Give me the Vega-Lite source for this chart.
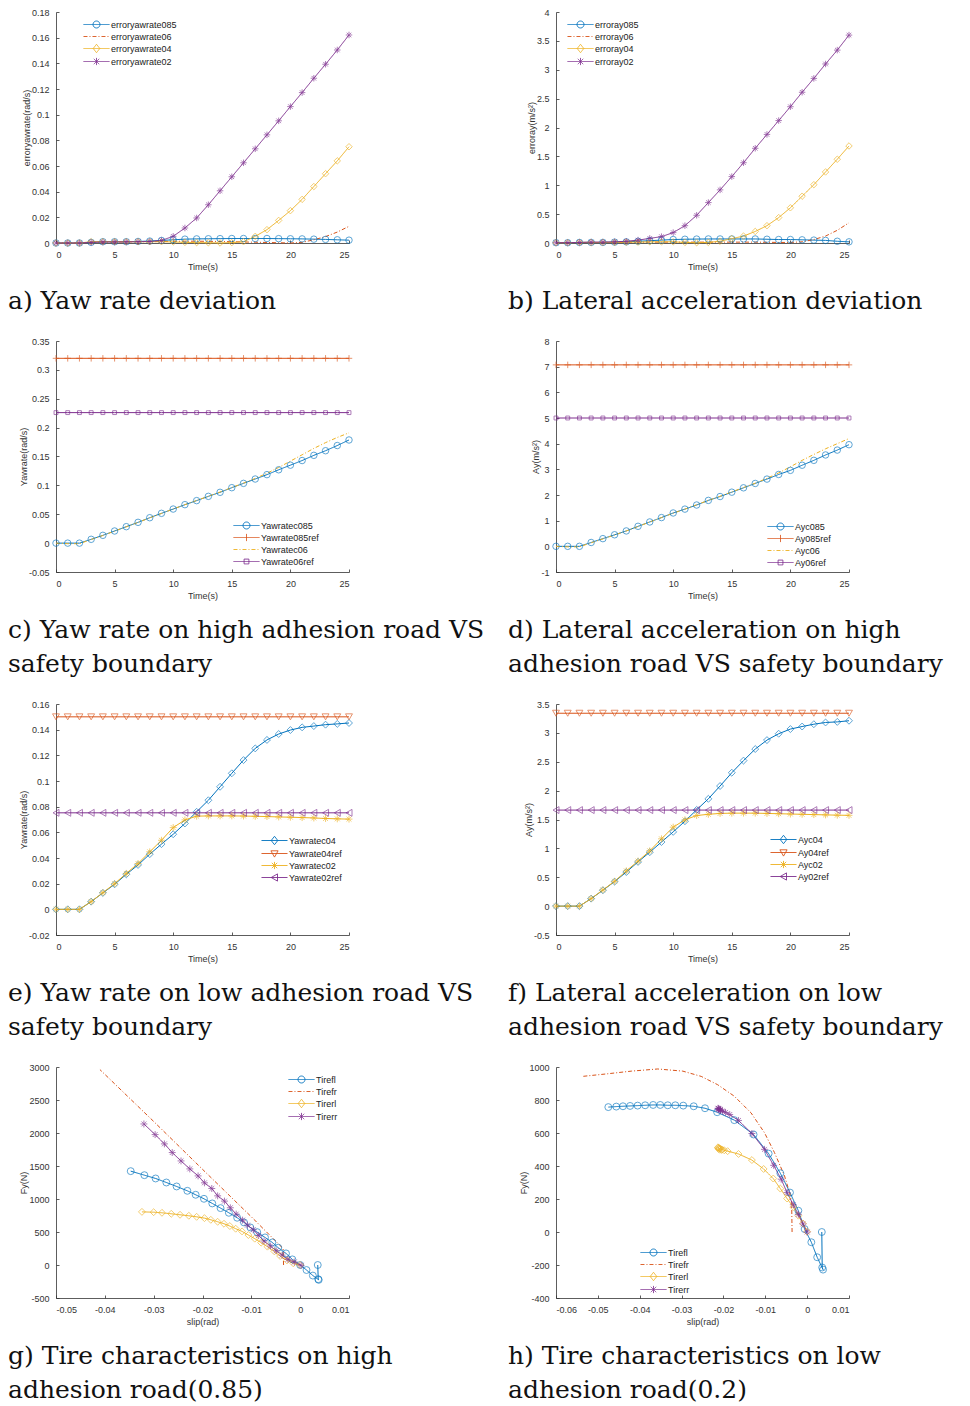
{
"$schema": "https://vega.github.io/schema/vega-lite/v6.json",
"padding": {"left": 8, "top": 8, "right": 10, "bottom": 10},
"background": "white",
"config": {
 "view": {"stroke": null},
 "font": "Liberation Sans",
 "axis": {"grid": false, "format": ".6~g", "domainColor": "#333333", "tickColor": "#333333", "labelColor": "#333333", "titleColor": "#333333", "labelFont": "Liberation Sans", "titleFont": "Liberation Sans", "labelFontSize": 9, "titleFontSize": 9, "titleFontWeight": "normal", "tickSize": -3, "labelPadding": 10, "domainWidth": 0.8, "tickWidth": 0.8},
 "axisX": {"titlePadding": 3},
 "axisY": {"titlePadding": 0},
 "legend": {"orient": "none", "padding": 0, "rowPadding": 0, "symbolSize": 144, "symbolStrokeWidth": 0.9, "symbolOpacity": 1, "labelFont": "Liberation Sans", "labelFontSize": 9, "labelColor": "#222222", "labelOffset": 8},
 "title": {"orient": "bottom", "anchor": "start", "frame": "group", "font": "DejaVu Serif", "fontSize": 25, "fontWeight": "normal", "color": "#111111", "offset": 18, "dx": -48, "lineHeight": 34, "baseline": "top"},
 "locale": {"number": {"decimal": ".", "thousands": ",", "grouping": [3], "currency": ["$", ""], "minus": "-"}},
 "line": {"strokeWidth": 1},
 "point": {"strokeWidth": 0.9}
},
"datasets": {
"a": [
{"t":0,"s":"erroryawrate085","v":0},{"t":1,"s":"erroryawrate085","v":0},{"t":2,"s":"erroryawrate085","v":0},{"t":3,"s":"erroryawrate085","v":0.0005},{"t":4,"s":"erroryawrate085","v":0.001},{"t":5,"s":"erroryawrate085","v":0.001},{"t":6,"s":"erroryawrate085","v":0.001},{"t":7,"s":"erroryawrate085","v":0.0012},{"t":8,"s":"erroryawrate085","v":0.0015},{"t":9,"s":"erroryawrate085","v":0.002},{"t":10,"s":"erroryawrate085","v":0.0025},{"t":11,"s":"erroryawrate085","v":0.003},{"t":12,"s":"erroryawrate085","v":0.0032},{"t":13,"s":"erroryawrate085","v":0.0033},{"t":14,"s":"erroryawrate085","v":0.0034},{"t":15,"s":"erroryawrate085","v":0.0035},{"t":16,"s":"erroryawrate085","v":0.0035},{"t":17,"s":"erroryawrate085","v":0.0035},{"t":18,"s":"erroryawrate085","v":0.0035},{"t":19,"s":"erroryawrate085","v":0.0034},{"t":20,"s":"erroryawrate085","v":0.0033},{"t":21,"s":"erroryawrate085","v":0.0032},{"t":22,"s":"erroryawrate085","v":0.003},{"t":23,"s":"erroryawrate085","v":0.0028},{"t":24,"s":"erroryawrate085","v":0.0025},{"t":25,"s":"erroryawrate085","v":0.0022},
{"t":0,"s":"erroryawrate06","v":0},{"t":1,"s":"erroryawrate06","v":0},{"t":2,"s":"erroryawrate06","v":0},{"t":3,"s":"erroryawrate06","v":0.0005},{"t":4,"s":"erroryawrate06","v":0.0007},{"t":5,"s":"erroryawrate06","v":0.0008},{"t":6,"s":"erroryawrate06","v":0.0009},{"t":7,"s":"erroryawrate06","v":0.001},{"t":8,"s":"erroryawrate06","v":0.001},{"t":9,"s":"erroryawrate06","v":0.0012},{"t":10,"s":"erroryawrate06","v":0.0013},{"t":11,"s":"erroryawrate06","v":0.0014},{"t":12,"s":"erroryawrate06","v":0.0014},{"t":13,"s":"erroryawrate06","v":0.0013},{"t":14,"s":"erroryawrate06","v":0.0012},{"t":15,"s":"erroryawrate06","v":0.001},{"t":16,"s":"erroryawrate06","v":0.0008},{"t":17,"s":"erroryawrate06","v":0.0006},{"t":18,"s":"erroryawrate06","v":0.0004},{"t":19,"s":"erroryawrate06","v":0.0002},{"t":20,"s":"erroryawrate06","v":0},{"t":21,"s":"erroryawrate06","v":0.0005},{"t":22,"s":"erroryawrate06","v":0.0025},{"t":23,"s":"erroryawrate06","v":0.005},{"t":24,"s":"erroryawrate06","v":0.0085},{"t":25,"s":"erroryawrate06","v":0.013},
{"t":0,"s":"erroryawrate04","v":0},{"t":1,"s":"erroryawrate04","v":0},{"t":2,"s":"erroryawrate04","v":0},{"t":3,"s":"erroryawrate04","v":0.001},{"t":4,"s":"erroryawrate04","v":0.001},{"t":5,"s":"erroryawrate04","v":0.001},{"t":6,"s":"erroryawrate04","v":0.001},{"t":7,"s":"erroryawrate04","v":0.001},{"t":8,"s":"erroryawrate04","v":0.001},{"t":9,"s":"erroryawrate04","v":0.001},{"t":10,"s":"erroryawrate04","v":0.0008},{"t":11,"s":"erroryawrate04","v":0.0005},{"t":12,"s":"erroryawrate04","v":0.0003},{"t":13,"s":"erroryawrate04","v":0.0002},{"t":14,"s":"erroryawrate04","v":0},{"t":15,"s":"erroryawrate04","v":0.0003},{"t":16,"s":"erroryawrate04","v":0.001},{"t":17,"s":"erroryawrate04","v":0.0052},{"t":18,"s":"erroryawrate04","v":0.0104},{"t":19,"s":"erroryawrate04","v":0.0176},{"t":20,"s":"erroryawrate04","v":0.0252},{"t":21,"s":"erroryawrate04","v":0.034},{"t":22,"s":"erroryawrate04","v":0.044},{"t":23,"s":"erroryawrate04","v":0.054},{"t":24,"s":"erroryawrate04","v":0.064},{"t":25,"s":"erroryawrate04","v":0.075},
{"t":0,"s":"erroryawrate02","v":0},{"t":1,"s":"erroryawrate02","v":0},{"t":2,"s":"erroryawrate02","v":0},{"t":3,"s":"erroryawrate02","v":0.0005},{"t":4,"s":"erroryawrate02","v":0.0008},{"t":5,"s":"erroryawrate02","v":0.0008},{"t":6,"s":"erroryawrate02","v":0.0009},{"t":7,"s":"erroryawrate02","v":0.001},{"t":8,"s":"erroryawrate02","v":0.0012},{"t":9,"s":"erroryawrate02","v":0.002},{"t":10,"s":"erroryawrate02","v":0.0052},{"t":11,"s":"erroryawrate02","v":0.0117},{"t":12,"s":"erroryawrate02","v":0.0195},{"t":13,"s":"erroryawrate02","v":0.0298},{"t":14,"s":"erroryawrate02","v":0.0407},{"t":15,"s":"erroryawrate02","v":0.0516},{"t":16,"s":"erroryawrate02","v":0.0625},{"t":17,"s":"erroryawrate02","v":0.0734},{"t":18,"s":"erroryawrate02","v":0.0843},{"t":19,"s":"erroryawrate02","v":0.0952},{"t":20,"s":"erroryawrate02","v":0.1063},{"t":21,"s":"erroryawrate02","v":0.1172},{"t":22,"s":"erroryawrate02","v":0.1284},{"t":23,"s":"erroryawrate02","v":0.1393},{"t":24,"s":"erroryawrate02","v":0.1504},{"t":25,"s":"erroryawrate02","v":0.1621}
],
"b": [
{"t":0,"s":"erroray085","v":0.005},{"t":1,"s":"erroray085","v":0.005},{"t":2,"s":"erroray085","v":0.01},{"t":3,"s":"erroray085","v":0.01},{"t":4,"s":"erroray085","v":0.01},{"t":5,"s":"erroray085","v":0.015},{"t":6,"s":"erroray085","v":0.02},{"t":7,"s":"erroray085","v":0.03},{"t":8,"s":"erroray085","v":0.04},{"t":9,"s":"erroray085","v":0.05},{"t":10,"s":"erroray085","v":0.06},{"t":11,"s":"erroray085","v":0.065},{"t":12,"s":"erroray085","v":0.068},{"t":13,"s":"erroray085","v":0.07},{"t":14,"s":"erroray085","v":0.07},{"t":15,"s":"erroray085","v":0.07},{"t":16,"s":"erroray085","v":0.07},{"t":17,"s":"erroray085","v":0.07},{"t":18,"s":"erroray085","v":0.065},{"t":19,"s":"erroray085","v":0.06},{"t":20,"s":"erroray085","v":0.06},{"t":21,"s":"erroray085","v":0.055},{"t":22,"s":"erroray085","v":0.05},{"t":23,"s":"erroray085","v":0.045},{"t":24,"s":"erroray085","v":0.03},{"t":25,"s":"erroray085","v":0.02},
{"t":0,"s":"erroray06","v":0.005},{"t":1,"s":"erroray06","v":0.005},{"t":2,"s":"erroray06","v":0.01},{"t":3,"s":"erroray06","v":0.01},{"t":4,"s":"erroray06","v":0.01},{"t":5,"s":"erroray06","v":0.012},{"t":6,"s":"erroray06","v":0.015},{"t":7,"s":"erroray06","v":0.015},{"t":8,"s":"erroray06","v":0.015},{"t":9,"s":"erroray06","v":0.015},{"t":10,"s":"erroray06","v":0.015},{"t":11,"s":"erroray06","v":0.015},{"t":12,"s":"erroray06","v":0.015},{"t":13,"s":"erroray06","v":0.015},{"t":14,"s":"erroray06","v":0.015},{"t":15,"s":"erroray06","v":0.015},{"t":16,"s":"erroray06","v":0.015},{"t":17,"s":"erroray06","v":0.015},{"t":18,"s":"erroray06","v":0.012},{"t":19,"s":"erroray06","v":0.01},{"t":20,"s":"erroray06","v":0.01},{"t":21,"s":"erroray06","v":0.02},{"t":22,"s":"erroray06","v":0.06},{"t":23,"s":"erroray06","v":0.12},{"t":24,"s":"erroray06","v":0.22},{"t":25,"s":"erroray06","v":0.35},
{"t":0,"s":"erroray04","v":0.005},{"t":1,"s":"erroray04","v":0.005},{"t":2,"s":"erroray04","v":0.01},{"t":3,"s":"erroray04","v":0.01},{"t":4,"s":"erroray04","v":0.01},{"t":5,"s":"erroray04","v":0.012},{"t":6,"s":"erroray04","v":0.015},{"t":7,"s":"erroray04","v":0.015},{"t":8,"s":"erroray04","v":0.02},{"t":9,"s":"erroray04","v":0.02},{"t":10,"s":"erroray04","v":0.02},{"t":11,"s":"erroray04","v":0.01},{"t":12,"s":"erroray04","v":0.005},{"t":13,"s":"erroray04","v":0.01},{"t":14,"s":"erroray04","v":0.03},{"t":15,"s":"erroray04","v":0.075},{"t":16,"s":"erroray04","v":0.12},{"t":17,"s":"erroray04","v":0.2},{"t":18,"s":"erroray04","v":0.3},{"t":19,"s":"erroray04","v":0.44},{"t":20,"s":"erroray04","v":0.61},{"t":21,"s":"erroray04","v":0.81},{"t":22,"s":"erroray04","v":1.01},{"t":23,"s":"erroray04","v":1.23},{"t":24,"s":"erroray04","v":1.45},{"t":25,"s":"erroray04","v":1.68},
{"t":0,"s":"erroray02","v":0.005},{"t":1,"s":"erroray02","v":0.005},{"t":2,"s":"erroray02","v":0.01},{"t":3,"s":"erroray02","v":0.015},{"t":4,"s":"erroray02","v":0.015},{"t":5,"s":"erroray02","v":0.02},{"t":6,"s":"erroray02","v":0.03},{"t":7,"s":"erroray02","v":0.05},{"t":8,"s":"erroray02","v":0.08},{"t":9,"s":"erroray02","v":0.11},{"t":10,"s":"erroray02","v":0.18},{"t":11,"s":"erroray02","v":0.3},{"t":12,"s":"erroray02","v":0.48},{"t":13,"s":"erroray02","v":0.7},{"t":14,"s":"erroray02","v":0.92},{"t":15,"s":"erroray02","v":1.15},{"t":16,"s":"erroray02","v":1.39},{"t":17,"s":"erroray02","v":1.64},{"t":18,"s":"erroray02","v":1.88},{"t":19,"s":"erroray02","v":2.12},{"t":20,"s":"erroray02","v":2.36},{"t":21,"s":"erroray02","v":2.61},{"t":22,"s":"erroray02","v":2.85},{"t":23,"s":"erroray02","v":3.1},{"t":24,"s":"erroray02","v":3.34},{"t":25,"s":"erroray02","v":3.6}
],
"c": [
{"t":0,"s":"Yawratec085","v":0},{"t":1,"s":"Yawratec085","v":0},{"t":2,"s":"Yawratec085","v":0},{"t":3,"s":"Yawratec085","v":0.0066},{"t":4,"s":"Yawratec085","v":0.0135},{"t":5,"s":"Yawratec085","v":0.021},{"t":6,"s":"Yawratec085","v":0.0285},{"t":7,"s":"Yawratec085","v":0.036},{"t":8,"s":"Yawratec085","v":0.044},{"t":9,"s":"Yawratec085","v":0.0516},{"t":10,"s":"Yawratec085","v":0.059},{"t":11,"s":"Yawratec085","v":0.0666},{"t":12,"s":"Yawratec085","v":0.0736},{"t":13,"s":"Yawratec085","v":0.081},{"t":14,"s":"Yawratec085","v":0.088},{"t":15,"s":"Yawratec085","v":0.096},{"t":16,"s":"Yawratec085","v":0.1035},{"t":17,"s":"Yawratec085","v":0.111},{"t":18,"s":"Yawratec085","v":0.1186},{"t":19,"s":"Yawratec085","v":0.127},{"t":20,"s":"Yawratec085","v":0.135},{"t":21,"s":"Yawratec085","v":0.143},{"t":22,"s":"Yawratec085","v":0.152},{"t":23,"s":"Yawratec085","v":0.16},{"t":24,"s":"Yawratec085","v":0.169},{"t":25,"s":"Yawratec085","v":0.1786},
{"t":0,"s":"Yawrate085ref","v":0.32},{"t":1,"s":"Yawrate085ref","v":0.32},{"t":2,"s":"Yawrate085ref","v":0.32},{"t":3,"s":"Yawrate085ref","v":0.32},{"t":4,"s":"Yawrate085ref","v":0.32},{"t":5,"s":"Yawrate085ref","v":0.32},{"t":6,"s":"Yawrate085ref","v":0.32},{"t":7,"s":"Yawrate085ref","v":0.32},{"t":8,"s":"Yawrate085ref","v":0.32},{"t":9,"s":"Yawrate085ref","v":0.32},{"t":10,"s":"Yawrate085ref","v":0.32},{"t":11,"s":"Yawrate085ref","v":0.32},{"t":12,"s":"Yawrate085ref","v":0.32},{"t":13,"s":"Yawrate085ref","v":0.32},{"t":14,"s":"Yawrate085ref","v":0.32},{"t":15,"s":"Yawrate085ref","v":0.32},{"t":16,"s":"Yawrate085ref","v":0.32},{"t":17,"s":"Yawrate085ref","v":0.32},{"t":18,"s":"Yawrate085ref","v":0.32},{"t":19,"s":"Yawrate085ref","v":0.32},{"t":20,"s":"Yawrate085ref","v":0.32},{"t":21,"s":"Yawrate085ref","v":0.32},{"t":22,"s":"Yawrate085ref","v":0.32},{"t":23,"s":"Yawrate085ref","v":0.32},{"t":24,"s":"Yawrate085ref","v":0.32},{"t":25,"s":"Yawrate085ref","v":0.32},
{"t":0,"s":"Yawratec06","v":0},{"t":1,"s":"Yawratec06","v":-0.001},{"t":2,"s":"Yawratec06","v":-0.001},{"t":3,"s":"Yawratec06","v":0.0062},{"t":4,"s":"Yawratec06","v":0.0132},{"t":5,"s":"Yawratec06","v":0.0208},{"t":6,"s":"Yawratec06","v":0.0283},{"t":7,"s":"Yawratec06","v":0.0358},{"t":8,"s":"Yawratec06","v":0.0438},{"t":9,"s":"Yawratec06","v":0.0514},{"t":10,"s":"Yawratec06","v":0.059},{"t":11,"s":"Yawratec06","v":0.0666},{"t":12,"s":"Yawratec06","v":0.0738},{"t":13,"s":"Yawratec06","v":0.0812},{"t":14,"s":"Yawratec06","v":0.0885},{"t":15,"s":"Yawratec06","v":0.0962},{"t":16,"s":"Yawratec06","v":0.104},{"t":17,"s":"Yawratec06","v":0.112},{"t":18,"s":"Yawratec06","v":0.121},{"t":19,"s":"Yawratec06","v":0.131},{"t":20,"s":"Yawratec06","v":0.142},{"t":21,"s":"Yawratec06","v":0.153},{"t":22,"s":"Yawratec06","v":0.164},{"t":23,"s":"Yawratec06","v":0.174},{"t":24,"s":"Yawratec06","v":0.183},{"t":25,"s":"Yawratec06","v":0.191},
{"t":0,"s":"Yawrate06ref","v":0.226},{"t":1,"s":"Yawrate06ref","v":0.226},{"t":2,"s":"Yawrate06ref","v":0.226},{"t":3,"s":"Yawrate06ref","v":0.226},{"t":4,"s":"Yawrate06ref","v":0.226},{"t":5,"s":"Yawrate06ref","v":0.226},{"t":6,"s":"Yawrate06ref","v":0.226},{"t":7,"s":"Yawrate06ref","v":0.226},{"t":8,"s":"Yawrate06ref","v":0.226},{"t":9,"s":"Yawrate06ref","v":0.226},{"t":10,"s":"Yawrate06ref","v":0.226},{"t":11,"s":"Yawrate06ref","v":0.226},{"t":12,"s":"Yawrate06ref","v":0.226},{"t":13,"s":"Yawrate06ref","v":0.226},{"t":14,"s":"Yawrate06ref","v":0.226},{"t":15,"s":"Yawrate06ref","v":0.226},{"t":16,"s":"Yawrate06ref","v":0.226},{"t":17,"s":"Yawrate06ref","v":0.226},{"t":18,"s":"Yawrate06ref","v":0.226},{"t":19,"s":"Yawrate06ref","v":0.226},{"t":20,"s":"Yawrate06ref","v":0.226},{"t":21,"s":"Yawrate06ref","v":0.226},{"t":22,"s":"Yawrate06ref","v":0.226},{"t":23,"s":"Yawrate06ref","v":0.226},{"t":24,"s":"Yawrate06ref","v":0.226},{"t":25,"s":"Yawrate06ref","v":0.226}
],
"d": [
{"t":0,"s":"Ayc085","v":0},{"t":1,"s":"Ayc085","v":0},{"t":2,"s":"Ayc085","v":0},{"t":3,"s":"Ayc085","v":0.15},{"t":4,"s":"Ayc085","v":0.3},{"t":5,"s":"Ayc085","v":0.45},{"t":6,"s":"Ayc085","v":0.6},{"t":7,"s":"Ayc085","v":0.78},{"t":8,"s":"Ayc085","v":0.95},{"t":9,"s":"Ayc085","v":1.12},{"t":10,"s":"Ayc085","v":1.3},{"t":11,"s":"Ayc085","v":1.45},{"t":12,"s":"Ayc085","v":1.61},{"t":13,"s":"Ayc085","v":1.79},{"t":14,"s":"Ayc085","v":1.94},{"t":15,"s":"Ayc085","v":2.11},{"t":16,"s":"Ayc085","v":2.28},{"t":17,"s":"Ayc085","v":2.45},{"t":18,"s":"Ayc085","v":2.62},{"t":19,"s":"Ayc085","v":2.8},{"t":20,"s":"Ayc085","v":2.96},{"t":21,"s":"Ayc085","v":3.16},{"t":22,"s":"Ayc085","v":3.35},{"t":23,"s":"Ayc085","v":3.56},{"t":24,"s":"Ayc085","v":3.75},{"t":25,"s":"Ayc085","v":3.96},
{"t":0,"s":"Ay085ref","v":7.07},{"t":1,"s":"Ay085ref","v":7.07},{"t":2,"s":"Ay085ref","v":7.07},{"t":3,"s":"Ay085ref","v":7.07},{"t":4,"s":"Ay085ref","v":7.07},{"t":5,"s":"Ay085ref","v":7.07},{"t":6,"s":"Ay085ref","v":7.07},{"t":7,"s":"Ay085ref","v":7.07},{"t":8,"s":"Ay085ref","v":7.07},{"t":9,"s":"Ay085ref","v":7.07},{"t":10,"s":"Ay085ref","v":7.07},{"t":11,"s":"Ay085ref","v":7.07},{"t":12,"s":"Ay085ref","v":7.07},{"t":13,"s":"Ay085ref","v":7.07},{"t":14,"s":"Ay085ref","v":7.07},{"t":15,"s":"Ay085ref","v":7.07},{"t":16,"s":"Ay085ref","v":7.07},{"t":17,"s":"Ay085ref","v":7.07},{"t":18,"s":"Ay085ref","v":7.07},{"t":19,"s":"Ay085ref","v":7.07},{"t":20,"s":"Ay085ref","v":7.07},{"t":21,"s":"Ay085ref","v":7.07},{"t":22,"s":"Ay085ref","v":7.07},{"t":23,"s":"Ay085ref","v":7.07},{"t":24,"s":"Ay085ref","v":7.07},{"t":25,"s":"Ay085ref","v":7.07},
{"t":0,"s":"Ayc06","v":0},{"t":1,"s":"Ayc06","v":-0.02},{"t":2,"s":"Ayc06","v":-0.02},{"t":3,"s":"Ayc06","v":0.14},{"t":4,"s":"Ayc06","v":0.29},{"t":5,"s":"Ayc06","v":0.44},{"t":6,"s":"Ayc06","v":0.6},{"t":7,"s":"Ayc06","v":0.77},{"t":8,"s":"Ayc06","v":0.95},{"t":9,"s":"Ayc06","v":1.12},{"t":10,"s":"Ayc06","v":1.29},{"t":11,"s":"Ayc06","v":1.45},{"t":12,"s":"Ayc06","v":1.62},{"t":13,"s":"Ayc06","v":1.79},{"t":14,"s":"Ayc06","v":1.95},{"t":15,"s":"Ayc06","v":2.12},{"t":16,"s":"Ayc06","v":2.29},{"t":17,"s":"Ayc06","v":2.46},{"t":18,"s":"Ayc06","v":2.65},{"t":19,"s":"Ayc06","v":2.86},{"t":20,"s":"Ayc06","v":3.1},{"t":21,"s":"Ayc06","v":3.35},{"t":22,"s":"Ayc06","v":3.58},{"t":23,"s":"Ayc06","v":3.8},{"t":24,"s":"Ayc06","v":4.0},{"t":25,"s":"Ayc06","v":4.2},
{"t":0,"s":"Ay06ref","v":5},{"t":1,"s":"Ay06ref","v":5},{"t":2,"s":"Ay06ref","v":5},{"t":3,"s":"Ay06ref","v":5},{"t":4,"s":"Ay06ref","v":5},{"t":5,"s":"Ay06ref","v":5},{"t":6,"s":"Ay06ref","v":5},{"t":7,"s":"Ay06ref","v":5},{"t":8,"s":"Ay06ref","v":5},{"t":9,"s":"Ay06ref","v":5},{"t":10,"s":"Ay06ref","v":5},{"t":11,"s":"Ay06ref","v":5},{"t":12,"s":"Ay06ref","v":5},{"t":13,"s":"Ay06ref","v":5},{"t":14,"s":"Ay06ref","v":5},{"t":15,"s":"Ay06ref","v":5},{"t":16,"s":"Ay06ref","v":5},{"t":17,"s":"Ay06ref","v":5},{"t":18,"s":"Ay06ref","v":5},{"t":19,"s":"Ay06ref","v":5},{"t":20,"s":"Ay06ref","v":5},{"t":21,"s":"Ay06ref","v":5},{"t":22,"s":"Ay06ref","v":5},{"t":23,"s":"Ay06ref","v":5},{"t":24,"s":"Ay06ref","v":5},{"t":25,"s":"Ay06ref","v":5}
],
"e": [
{"t":0,"s":"Yawratec04","v":0},{"t":1,"s":"Yawratec04","v":0},{"t":2,"s":"Yawratec04","v":0},{"t":3,"s":"Yawratec04","v":0.006},{"t":4,"s":"Yawratec04","v":0.0128},{"t":5,"s":"Yawratec04","v":0.0195},{"t":6,"s":"Yawratec04","v":0.0273},{"t":7,"s":"Yawratec04","v":0.0346},{"t":8,"s":"Yawratec04","v":0.043},{"t":9,"s":"Yawratec04","v":0.0508},{"t":10,"s":"Yawratec04","v":0.0585},{"t":11,"s":"Yawratec04","v":0.0669},{"t":12,"s":"Yawratec04","v":0.076},{"t":13,"s":"Yawratec04","v":0.085},{"t":14,"s":"Yawratec04","v":0.0955},{"t":15,"s":"Yawratec04","v":0.106},{"t":16,"s":"Yawratec04","v":0.1163},{"t":17,"s":"Yawratec04","v":0.1254},{"t":18,"s":"Yawratec04","v":0.132},{"t":19,"s":"Yawratec04","v":0.1366},{"t":20,"s":"Yawratec04","v":0.1397},{"t":21,"s":"Yawratec04","v":0.1418},{"t":22,"s":"Yawratec04","v":0.1428},{"t":23,"s":"Yawratec04","v":0.1439},{"t":24,"s":"Yawratec04","v":0.1445},{"t":25,"s":"Yawratec04","v":0.1452},
{"t":0,"s":"Yawrate04ref","v":0.15},{"t":1,"s":"Yawrate04ref","v":0.15},{"t":2,"s":"Yawrate04ref","v":0.15},{"t":3,"s":"Yawrate04ref","v":0.15},{"t":4,"s":"Yawrate04ref","v":0.15},{"t":5,"s":"Yawrate04ref","v":0.15},{"t":6,"s":"Yawrate04ref","v":0.15},{"t":7,"s":"Yawrate04ref","v":0.15},{"t":8,"s":"Yawrate04ref","v":0.15},{"t":9,"s":"Yawrate04ref","v":0.15},{"t":10,"s":"Yawrate04ref","v":0.15},{"t":11,"s":"Yawrate04ref","v":0.15},{"t":12,"s":"Yawrate04ref","v":0.15},{"t":13,"s":"Yawrate04ref","v":0.15},{"t":14,"s":"Yawrate04ref","v":0.15},{"t":15,"s":"Yawrate04ref","v":0.15},{"t":16,"s":"Yawrate04ref","v":0.15},{"t":17,"s":"Yawrate04ref","v":0.15},{"t":18,"s":"Yawrate04ref","v":0.15},{"t":19,"s":"Yawrate04ref","v":0.15},{"t":20,"s":"Yawrate04ref","v":0.15},{"t":21,"s":"Yawrate04ref","v":0.15},{"t":22,"s":"Yawrate04ref","v":0.15},{"t":23,"s":"Yawrate04ref","v":0.15},{"t":24,"s":"Yawrate04ref","v":0.15},{"t":25,"s":"Yawrate04ref","v":0.15},
{"t":0,"s":"Yawratec02","v":0},{"t":1,"s":"Yawratec02","v":0},{"t":2,"s":"Yawratec02","v":0},{"t":3,"s":"Yawratec02","v":0.006},{"t":4,"s":"Yawratec02","v":0.013},{"t":5,"s":"Yawratec02","v":0.02},{"t":6,"s":"Yawratec02","v":0.028},{"t":7,"s":"Yawratec02","v":0.0357},{"t":8,"s":"Yawratec02","v":0.0448},{"t":9,"s":"Yawratec02","v":0.0538},{"t":10,"s":"Yawratec02","v":0.0637},{"t":11,"s":"Yawratec02","v":0.0697},{"t":12,"s":"Yawratec02","v":0.0726},{"t":13,"s":"Yawratec02","v":0.0728},{"t":14,"s":"Yawratec02","v":0.0728},{"t":15,"s":"Yawratec02","v":0.0728},{"t":16,"s":"Yawratec02","v":0.0727},{"t":17,"s":"Yawratec02","v":0.0725},{"t":18,"s":"Yawratec02","v":0.0723},{"t":19,"s":"Yawratec02","v":0.072},{"t":20,"s":"Yawratec02","v":0.0718},{"t":21,"s":"Yawratec02","v":0.0715},{"t":22,"s":"Yawratec02","v":0.0712},{"t":23,"s":"Yawratec02","v":0.0708},{"t":24,"s":"Yawratec02","v":0.0705},{"t":25,"s":"Yawratec02","v":0.0703},
{"t":0,"s":"Yawrate02ref","v":0.0752},{"t":1,"s":"Yawrate02ref","v":0.0752},{"t":2,"s":"Yawrate02ref","v":0.0752},{"t":3,"s":"Yawrate02ref","v":0.0752},{"t":4,"s":"Yawrate02ref","v":0.0752},{"t":5,"s":"Yawrate02ref","v":0.0752},{"t":6,"s":"Yawrate02ref","v":0.0752},{"t":7,"s":"Yawrate02ref","v":0.0752},{"t":8,"s":"Yawrate02ref","v":0.0752},{"t":9,"s":"Yawrate02ref","v":0.0752},{"t":10,"s":"Yawrate02ref","v":0.0752},{"t":11,"s":"Yawrate02ref","v":0.0752},{"t":12,"s":"Yawrate02ref","v":0.0752},{"t":13,"s":"Yawrate02ref","v":0.0752},{"t":14,"s":"Yawrate02ref","v":0.0752},{"t":15,"s":"Yawrate02ref","v":0.0752},{"t":16,"s":"Yawrate02ref","v":0.0752},{"t":17,"s":"Yawrate02ref","v":0.0752},{"t":18,"s":"Yawrate02ref","v":0.0752},{"t":19,"s":"Yawrate02ref","v":0.0752},{"t":20,"s":"Yawrate02ref","v":0.0752},{"t":21,"s":"Yawrate02ref","v":0.0752},{"t":22,"s":"Yawrate02ref","v":0.0752},{"t":23,"s":"Yawrate02ref","v":0.0752},{"t":24,"s":"Yawrate02ref","v":0.0752},{"t":25,"s":"Yawrate02ref","v":0.0752}
],
"f": [
{"t":0,"s":"Ayc04","v":0},{"t":1,"s":"Ayc04","v":0},{"t":2,"s":"Ayc04","v":0},{"t":3,"s":"Ayc04","v":0.13},{"t":4,"s":"Ayc04","v":0.275},{"t":5,"s":"Ayc04","v":0.425},{"t":6,"s":"Ayc04","v":0.59},{"t":7,"s":"Ayc04","v":0.766},{"t":8,"s":"Ayc04","v":0.934},{"t":9,"s":"Ayc04","v":1.11},{"t":10,"s":"Ayc04","v":1.286},{"t":11,"s":"Ayc04","v":1.47},{"t":12,"s":"Ayc04","v":1.667},{"t":13,"s":"Ayc04","v":1.858},{"t":14,"s":"Ayc04","v":2.08},{"t":15,"s":"Ayc04","v":2.31},{"t":16,"s":"Ayc04","v":2.52},{"t":17,"s":"Ayc04","v":2.72},{"t":18,"s":"Ayc04","v":2.875},{"t":19,"s":"Ayc04","v":2.985},{"t":20,"s":"Ayc04","v":3.066},{"t":21,"s":"Ayc04","v":3.11},{"t":22,"s":"Ayc04","v":3.15},{"t":23,"s":"Ayc04","v":3.18},{"t":24,"s":"Ayc04","v":3.19},{"t":25,"s":"Ayc04","v":3.21},
{"t":0,"s":"Ay04ref","v":3.34},{"t":1,"s":"Ay04ref","v":3.34},{"t":2,"s":"Ay04ref","v":3.34},{"t":3,"s":"Ay04ref","v":3.34},{"t":4,"s":"Ay04ref","v":3.34},{"t":5,"s":"Ay04ref","v":3.34},{"t":6,"s":"Ay04ref","v":3.34},{"t":7,"s":"Ay04ref","v":3.34},{"t":8,"s":"Ay04ref","v":3.34},{"t":9,"s":"Ay04ref","v":3.34},{"t":10,"s":"Ay04ref","v":3.34},{"t":11,"s":"Ay04ref","v":3.34},{"t":12,"s":"Ay04ref","v":3.34},{"t":13,"s":"Ay04ref","v":3.34},{"t":14,"s":"Ay04ref","v":3.34},{"t":15,"s":"Ay04ref","v":3.34},{"t":16,"s":"Ay04ref","v":3.34},{"t":17,"s":"Ay04ref","v":3.34},{"t":18,"s":"Ay04ref","v":3.34},{"t":19,"s":"Ay04ref","v":3.34},{"t":20,"s":"Ay04ref","v":3.34},{"t":21,"s":"Ay04ref","v":3.34},{"t":22,"s":"Ay04ref","v":3.34},{"t":23,"s":"Ay04ref","v":3.34},{"t":24,"s":"Ay04ref","v":3.34},{"t":25,"s":"Ay04ref","v":3.34},
{"t":0,"s":"Ayc02","v":0},{"t":1,"s":"Ayc02","v":0},{"t":2,"s":"Ayc02","v":0},{"t":3,"s":"Ayc02","v":0.13},{"t":4,"s":"Ayc02","v":0.28},{"t":5,"s":"Ayc02","v":0.43},{"t":6,"s":"Ayc02","v":0.61},{"t":7,"s":"Ayc02","v":0.78},{"t":8,"s":"Ayc02","v":0.957},{"t":9,"s":"Ayc02","v":1.165},{"t":10,"s":"Ayc02","v":1.367},{"t":11,"s":"Ayc02","v":1.494},{"t":12,"s":"Ayc02","v":1.569},{"t":13,"s":"Ayc02","v":1.59},{"t":14,"s":"Ayc02","v":1.605},{"t":15,"s":"Ayc02","v":1.61},{"t":16,"s":"Ayc02","v":1.61},{"t":17,"s":"Ayc02","v":1.61},{"t":18,"s":"Ayc02","v":1.605},{"t":19,"s":"Ayc02","v":1.6},{"t":20,"s":"Ayc02","v":1.595},{"t":21,"s":"Ayc02","v":1.59},{"t":22,"s":"Ayc02","v":1.585},{"t":23,"s":"Ayc02","v":1.58},{"t":24,"s":"Ayc02","v":1.575},{"t":25,"s":"Ayc02","v":1.572},
{"t":0,"s":"Ay02ref","v":1.663},{"t":1,"s":"Ay02ref","v":1.663},{"t":2,"s":"Ay02ref","v":1.663},{"t":3,"s":"Ay02ref","v":1.663},{"t":4,"s":"Ay02ref","v":1.663},{"t":5,"s":"Ay02ref","v":1.663},{"t":6,"s":"Ay02ref","v":1.663},{"t":7,"s":"Ay02ref","v":1.663},{"t":8,"s":"Ay02ref","v":1.663},{"t":9,"s":"Ay02ref","v":1.663},{"t":10,"s":"Ay02ref","v":1.663},{"t":11,"s":"Ay02ref","v":1.663},{"t":12,"s":"Ay02ref","v":1.663},{"t":13,"s":"Ay02ref","v":1.663},{"t":14,"s":"Ay02ref","v":1.663},{"t":15,"s":"Ay02ref","v":1.663},{"t":16,"s":"Ay02ref","v":1.663},{"t":17,"s":"Ay02ref","v":1.663},{"t":18,"s":"Ay02ref","v":1.663},{"t":19,"s":"Ay02ref","v":1.663},{"t":20,"s":"Ay02ref","v":1.663},{"t":21,"s":"Ay02ref","v":1.663},{"t":22,"s":"Ay02ref","v":1.663},{"t":23,"s":"Ay02ref","v":1.663},{"t":24,"s":"Ay02ref","v":1.663},{"t":25,"s":"Ay02ref","v":1.663}
],
"g": [
{"i":0,"s":"Tirefl","slip":0.0036,"fy":0},{"i":1,"s":"Tirefl","slip":0.0037,"fy":-215},{"i":2,"s":"Tirefl","slip":0.0038,"fy":-225},{"i":3,"s":"Tirefl","slip":0.0026,"fy":-160},{"i":4,"s":"Tirefl","slip":0.0013,"fy":-76},{"i":5,"s":"Tirefl","slip":0,"fy":0},{"i":6,"s":"Tirefl","slip":-0.0016,"fy":85},{"i":7,"s":"Tirefl","slip":-0.0029,"fy":176},{"i":8,"s":"Tirefl","slip":-0.0045,"fy":262},{"i":9,"s":"Tirefl","slip":-0.0057,"fy":342},{"i":10,"s":"Tirefl","slip":-0.0072,"fy":418},{"i":11,"s":"Tirefl","slip":-0.0088,"fy":498},{"i":12,"s":"Tirefl","slip":-0.0102,"fy":569},{"i":13,"s":"Tirefl","slip":-0.0115,"fy":645},{"i":14,"s":"Tirefl","slip":-0.0129,"fy":716},{"i":15,"s":"Tirefl","slip":-0.0146,"fy":791},{"i":16,"s":"Tirefl","slip":-0.0163,"fy":862},{"i":17,"s":"Tirefl","slip":-0.018,"fy":933},{"i":18,"s":"Tirefl","slip":-0.0197,"fy":1003},{"i":19,"s":"Tirefl","slip":-0.0214,"fy":1064},{"i":20,"s":"Tirefl","slip":-0.0231,"fy":1124},{"i":21,"s":"Tirefl","slip":-0.0253,"fy":1190},{"i":22,"s":"Tirefl","slip":-0.0274,"fy":1250},{"i":23,"s":"Tirefl","slip":-0.0296,"fy":1311},{"i":24,"s":"Tirefl","slip":-0.0319,"fy":1361},{"i":25,"s":"Tirefl","slip":-0.0347,"fy":1422},
{"i":0,"s":"Tirefr","slip":-0.0034,"fy":0},{"i":1,"s":"Tirefr","slip":-0.0035,"fy":250},{"i":2,"s":"Tirefr","slip":-0.01,"fy":730},{"i":3,"s":"Tirefr","slip":-0.02,"fy":1450},{"i":4,"s":"Tirefr","slip":-0.03,"fy":2175},{"i":5,"s":"Tirefr","slip":-0.041,"fy":2960},
{"i":0,"s":"Tirerl","slip":0,"fy":0},{"i":1,"s":"Tirerl","slip":-0.0014,"fy":25},{"i":2,"s":"Tirerl","slip":-0.0027,"fy":70},{"i":3,"s":"Tirerl","slip":-0.0041,"fy":136},{"i":4,"s":"Tirerl","slip":-0.0053,"fy":207},{"i":5,"s":"Tirerl","slip":-0.0067,"fy":278},{"i":6,"s":"Tirerl","slip":-0.008,"fy":339},{"i":7,"s":"Tirerl","slip":-0.0093,"fy":399},{"i":8,"s":"Tirerl","slip":-0.0106,"fy":454},{"i":9,"s":"Tirerl","slip":-0.0119,"fy":509},{"i":10,"s":"Tirerl","slip":-0.0132,"fy":550},{"i":11,"s":"Tirerl","slip":-0.0144,"fy":590},{"i":12,"s":"Tirerl","slip":-0.0156,"fy":625},{"i":13,"s":"Tirerl","slip":-0.0169,"fy":655},{"i":14,"s":"Tirerl","slip":-0.0183,"fy":685},{"i":15,"s":"Tirerl","slip":-0.0196,"fy":710},{"i":16,"s":"Tirerl","slip":-0.0212,"fy":730},{"i":17,"s":"Tirerl","slip":-0.0228,"fy":746},{"i":18,"s":"Tirerl","slip":-0.0246,"fy":761},{"i":19,"s":"Tirerl","slip":-0.0264,"fy":776},{"i":20,"s":"Tirerl","slip":-0.0283,"fy":791},{"i":21,"s":"Tirerl","slip":-0.03,"fy":800},{"i":22,"s":"Tirerl","slip":-0.0324,"fy":805},
{"i":0,"s":"Tirerr","slip":0.0002,"fy":-5},{"i":1,"s":"Tirerr","slip":-0.0012,"fy":45},{"i":2,"s":"Tirerr","slip":-0.0025,"fy":85},{"i":3,"s":"Tirerr","slip":-0.0037,"fy":150},{"i":4,"s":"Tirerr","slip":-0.0049,"fy":216},{"i":5,"s":"Tirerr","slip":-0.0061,"fy":287},{"i":6,"s":"Tirerr","slip":-0.0074,"fy":363},{"i":7,"s":"Tirerr","slip":-0.0085,"fy":448},{"i":8,"s":"Tirerr","slip":-0.0096,"fy":534},{"i":9,"s":"Tirerr","slip":-0.0108,"fy":604},{"i":10,"s":"Tirerr","slip":-0.0118,"fy":680},{"i":11,"s":"Tirerr","slip":-0.0131,"fy":771},{"i":12,"s":"Tirerr","slip":-0.0143,"fy":867},{"i":13,"s":"Tirerr","slip":-0.0155,"fy":968},{"i":14,"s":"Tirerr","slip":-0.0169,"fy":1048},{"i":15,"s":"Tirerr","slip":-0.0181,"fy":1159},{"i":16,"s":"Tirerr","slip":-0.0196,"fy":1245},{"i":17,"s":"Tirerr","slip":-0.0209,"fy":1350},{"i":18,"s":"Tirerr","slip":-0.0226,"fy":1456},{"i":19,"s":"Tirerr","slip":-0.0244,"fy":1577},{"i":20,"s":"Tirerr","slip":-0.0262,"fy":1704},{"i":21,"s":"Tirerr","slip":-0.0278,"fy":1835},{"i":22,"s":"Tirerr","slip":-0.0297,"fy":1976},{"i":23,"s":"Tirerr","slip":-0.032,"fy":2137}
],
"h": [
{"i":0,"s":"Tirefl","slip":0.0035,"fy":0},{"i":1,"s":"Tirefl","slip":0.0036,"fy":-215},{"i":2,"s":"Tirefl","slip":0.0038,"fy":-228},{"i":3,"s":"Tirefl","slip":0.0024,"fy":-153},{"i":4,"s":"Tirefl","slip":0.001,"fy":-62},{"i":5,"s":"Tirefl","slip":-0.0006,"fy":18},{"i":6,"s":"Tirefl","slip":-0.0021,"fy":129},{"i":7,"s":"Tirefl","slip":-0.0041,"fy":239},{"i":8,"s":"Tirefl","slip":-0.0064,"fy":356},{"i":9,"s":"Tirefl","slip":-0.0092,"fy":475},{"i":10,"s":"Tirefl","slip":-0.0128,"fy":591},{"i":11,"s":"Tirefl","slip":-0.0174,"fy":678},{"i":12,"s":"Tirefl","slip":-0.0215,"fy":726},{"i":13,"s":"Tirefl","slip":-0.0244,"fy":750},{"i":14,"s":"Tirefl","slip":-0.0271,"fy":762},{"i":15,"s":"Tirefl","slip":-0.0296,"fy":766},{"i":16,"s":"Tirefl","slip":-0.0315,"fy":768},{"i":17,"s":"Tirefl","slip":-0.0333,"fy":768},{"i":18,"s":"Tirefl","slip":-0.0351,"fy":770},{"i":19,"s":"Tirefl","slip":-0.0368,"fy":770},{"i":20,"s":"Tirefl","slip":-0.0387,"fy":768},{"i":21,"s":"Tirefl","slip":-0.0405,"fy":766},{"i":22,"s":"Tirefl","slip":-0.0423,"fy":764},{"i":23,"s":"Tirefl","slip":-0.044,"fy":762},{"i":24,"s":"Tirefl","slip":-0.0456,"fy":760},{"i":25,"s":"Tirefl","slip":-0.0475,"fy":757},
{"i":0,"s":"Tirefr","slip":-0.0036,"fy":0},{"i":1,"s":"Tirefr","slip":-0.0037,"fy":179},{"i":2,"s":"Tirefr","slip":-0.0042,"fy":239},{"i":3,"s":"Tirefr","slip":-0.0054,"fy":340},{"i":4,"s":"Tirefr","slip":-0.0078,"fy":481},{"i":5,"s":"Tirefr","slip":-0.0102,"fy":602},{"i":6,"s":"Tirefr","slip":-0.0134,"fy":722},{"i":7,"s":"Tirefr","slip":-0.0174,"fy":823},{"i":8,"s":"Tirefr","slip":-0.0214,"fy":893},{"i":9,"s":"Tirefr","slip":-0.0253,"fy":943},{"i":10,"s":"Tirefr","slip":-0.0297,"fy":975},{"i":11,"s":"Tirefr","slip":-0.0357,"fy":988},{"i":12,"s":"Tirefr","slip":-0.042,"fy":975},{"i":13,"s":"Tirefr","slip":-0.048,"fy":958},{"i":14,"s":"Tirefr","slip":-0.0537,"fy":943},
{"i":0,"s":"Tirerl","slip":0,"fy":2},{"i":1,"s":"Tirerl","slip":-0.001,"fy":52},{"i":2,"s":"Tirerl","slip":-0.0021,"fy":99},{"i":3,"s":"Tirerl","slip":-0.0033,"fy":151},{"i":4,"s":"Tirerl","slip":-0.0048,"fy":203},{"i":5,"s":"Tirerl","slip":-0.0064,"fy":263},{"i":6,"s":"Tirerl","slip":-0.0081,"fy":324},{"i":7,"s":"Tirerl","slip":-0.0104,"fy":382},{"i":8,"s":"Tirerl","slip":-0.0132,"fy":436},{"i":9,"s":"Tirerl","slip":-0.0164,"fy":473},{"i":10,"s":"Tirerl","slip":-0.019,"fy":490},{"i":11,"s":"Tirerl","slip":-0.0198,"fy":495},{"i":12,"s":"Tirerl","slip":-0.0203,"fy":500},{"i":13,"s":"Tirerl","slip":-0.0207,"fy":505},{"i":14,"s":"Tirerl","slip":-0.021,"fy":508},{"i":15,"s":"Tirerl","slip":-0.0212,"fy":511},{"i":16,"s":"Tirerl","slip":-0.0213,"fy":513},{"i":17,"s":"Tirerl","slip":-0.0212,"fy":505},{"i":18,"s":"Tirerl","slip":-0.021,"fy":500},{"i":19,"s":"Tirerl","slip":-0.0205,"fy":497},
{"i":0,"s":"Tirerr","slip":0,"fy":0},{"i":1,"s":"Tirerr","slip":-0.001,"fy":49},{"i":2,"s":"Tirerr","slip":-0.0021,"fy":107},{"i":3,"s":"Tirerr","slip":-0.0033,"fy":165},{"i":4,"s":"Tirerr","slip":-0.0048,"fy":239},{"i":5,"s":"Tirerr","slip":-0.0062,"fy":320},{"i":6,"s":"Tirerr","slip":-0.008,"fy":404},{"i":7,"s":"Tirerr","slip":-0.0102,"fy":501},{"i":8,"s":"Tirerr","slip":-0.0132,"fy":597},{"i":9,"s":"Tirerr","slip":-0.0164,"fy":676},{"i":10,"s":"Tirerr","slip":-0.0185,"fy":712},{"i":11,"s":"Tirerr","slip":-0.0195,"fy":725},{"i":12,"s":"Tirerr","slip":-0.0202,"fy":733},{"i":13,"s":"Tirerr","slip":-0.0207,"fy":740},{"i":14,"s":"Tirerr","slip":-0.021,"fy":745},{"i":15,"s":"Tirerr","slip":-0.0212,"fy":748},{"i":16,"s":"Tirerr","slip":-0.0213,"fy":750},{"i":17,"s":"Tirerr","slip":-0.0211,"fy":744},{"i":18,"s":"Tirerr","slip":-0.0208,"fy":738}
]
},
"spacing": 23,
"vconcat": [
{"hconcat": [
 {"width": 293, "height": 231, "title": {"text": "a) Yaw rate deviation"}, "data": {"name": "a"},
  "encoding": {"x": {"field": "t", "type": "quantitative", "scale": {"domain": [0, 25], "nice": false, "zero": false}, "axis": {"title": "Time(s)", "values": [0, 5, 10, 15, 20, 25]}},
               "y": {"field": "v", "type": "quantitative", "scale": {"domain": [0, 0.18], "nice": false, "zero": false}, "axis": {"title": "erroryawrate(rad/s)", "values": [0, 0.02, 0.04, 0.06, 0.08, 0.1, 0.12, 0.14, 0.16, 0.18]}}},
  "layer": [
   {"mark": {"type": "line"}, "encoding": {"color": {"field": "s", "type": "nominal", "legend": null, "scale": {"domain": ["erroryawrate085", "erroryawrate06", "erroryawrate04", "erroryawrate02"], "range": ["#0072BD", "#D95319", "#EDB120", "#7E2F8E"]}}, "strokeDash": {"field": "s", "type": "nominal", "legend": null, "scale": {"domain": ["erroryawrate085", "erroryawrate06", "erroryawrate04", "erroryawrate02"], "range": [[1, 0], [4, 2, 1, 2], [1, 0], [1, 0]]}}}},
   {"transform": [{"filter": {"not": {"field": "s", "equal": "erroryawrate06"}}}], "mark": {"type": "point", "filled": false, "size": 42}, "encoding": {"color": {"field": "s", "type": "nominal", "legend": null, "scale": {"domain": ["erroryawrate085", "erroryawrate06", "erroryawrate04", "erroryawrate02"], "range": ["#0072BD", "#D95319", "#EDB120", "#7E2F8E"]}}, "shape": {"field": "s", "type": "nominal", "legend": null, "scale": {"domain": ["erroryawrate085", "erroryawrate06", "erroryawrate04", "erroryawrate02"], "range": ["circle", "circle", "diamond", "M0,-1V1M-1,0H1M-0.7,-0.7L0.7,0.7M-0.7,0.7L0.7,-0.7"]}}}},
   {"mark": {"type": "point", "filled": false, "opacity": 0}, "encoding": {
     "color": {"field": "s", "type": "nominal", "legend": {"title": null, "legendX": 34, "legendY": 6}, "scale": {"domain": ["erroryawrate085", "erroryawrate06", "erroryawrate04", "erroryawrate02"], "range": ["#0072BD", "#D95319", "#EDB120", "#7E2F8E"]}},
     "shape": {"field": "s", "type": "nominal", "legend": {"title": null, "legendX": 34, "legendY": 6}, "scale": {"domain": ["erroryawrate085", "erroryawrate06", "erroryawrate04", "erroryawrate02"], "range": ["M-2.17,0H2.17M0.58,0A0.58,0.58,0,1,1,-0.58,0A0.58,0.58,0,1,1,0.58,0", "M-2.17,0H2.17", "M-2.17,0H2.17M0,-0.7L0.55,0L0,0.7L-0.55,0Z", "M-2.17,0H2.17M0,-0.6V0.6M-0.45,-0.45L0.45,0.45M-0.45,0.45L0.45,-0.45"]}},
     "strokeDash": {"field": "s", "type": "nominal", "legend": {"title": null, "legendX": 34, "legendY": 6}, "scale": {"domain": ["erroryawrate085", "erroryawrate06", "erroryawrate04", "erroryawrate02"], "range": [[1, 0], [4, 2, 1, 2], [1, 0], [1, 0]]}}}}
  ],
  "resolve": {"scale": {"color": "independent", "shape": "independent", "strokeDash": "independent"}}
 },
 {"width": 293, "height": 231, "title": {"text": "b) Lateral acceleration deviation"}, "data": {"name": "b"},
  "encoding": {"x": {"field": "t", "type": "quantitative", "scale": {"domain": [0, 25], "nice": false, "zero": false}, "axis": {"title": "Time(s)", "values": [0, 5, 10, 15, 20, 25]}},
               "y": {"field": "v", "type": "quantitative", "scale": {"domain": [0, 4], "nice": false, "zero": false}, "axis": {"title": "erroray(m/s²)", "values": [0, 0.5, 1, 1.5, 2, 2.5, 3, 3.5, 4]}}},
  "layer": [
   {"mark": {"type": "line"}, "encoding": {"color": {"field": "s", "type": "nominal", "legend": null, "scale": {"domain": ["erroray085", "erroray06", "erroray04", "erroray02"], "range": ["#0072BD", "#D95319", "#EDB120", "#7E2F8E"]}}, "strokeDash": {"field": "s", "type": "nominal", "legend": null, "scale": {"domain": ["erroray085", "erroray06", "erroray04", "erroray02"], "range": [[1, 0], [4, 2, 1, 2], [1, 0], [1, 0]]}}}},
   {"transform": [{"filter": {"not": {"field": "s", "equal": "erroray06"}}}], "mark": {"type": "point", "filled": false, "size": 42}, "encoding": {"color": {"field": "s", "type": "nominal", "legend": null, "scale": {"domain": ["erroray085", "erroray06", "erroray04", "erroray02"], "range": ["#0072BD", "#D95319", "#EDB120", "#7E2F8E"]}}, "shape": {"field": "s", "type": "nominal", "legend": null, "scale": {"domain": ["erroray085", "erroray06", "erroray04", "erroray02"], "range": ["circle", "circle", "diamond", "M0,-1V1M-1,0H1M-0.7,-0.7L0.7,0.7M-0.7,0.7L0.7,-0.7"]}}}},
   {"mark": {"type": "point", "filled": false, "opacity": 0}, "encoding": {
     "color": {"field": "s", "type": "nominal", "legend": {"title": null, "legendX": 18, "legendY": 6}, "scale": {"domain": ["erroray085", "erroray06", "erroray04", "erroray02"], "range": ["#0072BD", "#D95319", "#EDB120", "#7E2F8E"]}},
     "shape": {"field": "s", "type": "nominal", "legend": {"title": null, "legendX": 18, "legendY": 6}, "scale": {"domain": ["erroray085", "erroray06", "erroray04", "erroray02"], "range": ["M-2.17,0H2.17M0.58,0A0.58,0.58,0,1,1,-0.58,0A0.58,0.58,0,1,1,0.58,0", "M-2.17,0H2.17", "M-2.17,0H2.17M0,-0.7L0.55,0L0,0.7L-0.55,0Z", "M-2.17,0H2.17M0,-0.6V0.6M-0.45,-0.45L0.45,0.45M-0.45,0.45L0.45,-0.45"]}},
     "strokeDash": {"field": "s", "type": "nominal", "legend": {"title": null, "legendX": 18, "legendY": 6}, "scale": {"domain": ["erroray085", "erroray06", "erroray04", "erroray02"], "range": [[1, 0], [4, 2, 1, 2], [1, 0], [1, 0]]}}}}
  ],
  "resolve": {"scale": {"color": "independent", "shape": "independent", "strokeDash": "independent"}}
 }
], "spacing": 207, "bounds": "flush"},
{"hconcat": [
 {"width": 293, "height": 231, "title": {"text": ["c) Yaw rate on high adhesion road VS", "safety boundary"]}, "data": {"name": "c"},
  "encoding": {"x": {"field": "t", "type": "quantitative", "scale": {"domain": [0, 25], "nice": false, "zero": false}, "axis": {"title": "Time(s)", "values": [0, 5, 10, 15, 20, 25]}},
               "y": {"field": "v", "type": "quantitative", "scale": {"domain": [-0.05, 0.35], "nice": false, "zero": false}, "axis": {"title": "Yawrate(rad/s)", "values": [-0.05, 0, 0.05, 0.1, 0.15, 0.2, 0.25, 0.3, 0.35]}}},
  "layer": [
   {"mark": {"type": "line"}, "encoding": {"color": {"field": "s", "type": "nominal", "legend": null, "scale": {"domain": ["Yawratec085", "Yawrate085ref", "Yawratec06", "Yawrate06ref"], "range": ["#0072BD", "#D95319", "#EDB120", "#7E2F8E"]}}, "strokeDash": {"field": "s", "type": "nominal", "legend": null, "scale": {"domain": ["Yawratec085", "Yawrate085ref", "Yawratec06", "Yawrate06ref"], "range": [[1, 0], [1, 0], [4, 2, 1, 2], [1, 0]]}}}},
   {"transform": [{"filter": {"not": {"field": "s", "equal": "Yawratec06"}}}], "mark": {"type": "point", "filled": false, "size": 42}, "encoding": {"color": {"field": "s", "type": "nominal", "legend": null, "scale": {"domain": ["Yawratec085", "Yawrate085ref", "Yawratec06", "Yawrate06ref"], "range": ["#0072BD", "#D95319", "#EDB120", "#7E2F8E"]}}, "shape": {"field": "s", "type": "nominal", "legend": null, "scale": {"domain": ["Yawratec085", "Yawrate085ref", "Yawratec06", "Yawrate06ref"], "range": ["circle", "M-1,0H1M0,-1V1", "circle", "M-0.6,-0.6H0.6V0.6H-0.6Z"]}}}},
   {"mark": {"type": "point", "filled": false, "opacity": 0}, "encoding": {
     "color": {"field": "s", "type": "nominal", "legend": {"title": null, "legendX": 184, "legendY": 178}, "scale": {"domain": ["Yawratec085", "Yawrate085ref", "Yawratec06", "Yawrate06ref"], "range": ["#0072BD", "#D95319", "#EDB120", "#7E2F8E"]}},
     "shape": {"field": "s", "type": "nominal", "legend": {"title": null, "legendX": 184, "legendY": 178}, "scale": {"domain": ["Yawratec085", "Yawrate085ref", "Yawratec06", "Yawrate06ref"], "range": ["M-2.17,0H2.17M0.58,0A0.58,0.58,0,1,1,-0.58,0A0.58,0.58,0,1,1,0.58,0", "M-2.17,0H2.17M0,-0.6V0.6", "M-2.17,0H2.17", "M-2.17,0H2.17M-0.4,-0.4H0.4V0.4H-0.4Z"]}},
     "strokeDash": {"field": "s", "type": "nominal", "legend": {"title": null, "legendX": 184, "legendY": 178}, "scale": {"domain": ["Yawratec085", "Yawrate085ref", "Yawratec06", "Yawrate06ref"], "range": [[1, 0], [1, 0], [4, 2, 1, 2], [1, 0]]}}}}
  ],
  "resolve": {"scale": {"color": "independent", "shape": "independent", "strokeDash": "independent"}}
 },
 {"width": 293, "height": 231, "title": {"text": ["d) Lateral acceleration on high", "adhesion road VS safety boundary"]}, "data": {"name": "d"},
  "encoding": {"x": {"field": "t", "type": "quantitative", "scale": {"domain": [0, 25], "nice": false, "zero": false}, "axis": {"title": "Time(s)", "values": [0, 5, 10, 15, 20, 25]}},
               "y": {"field": "v", "type": "quantitative", "scale": {"domain": [-1, 8], "nice": false, "zero": false}, "axis": {"title": "Ay(m/s²)", "values": [-1, 0, 1, 2, 3, 4, 5, 6, 7, 8]}}},
  "layer": [
   {"mark": {"type": "line"}, "encoding": {"color": {"field": "s", "type": "nominal", "legend": null, "scale": {"domain": ["Ayc085", "Ay085ref", "Ayc06", "Ay06ref"], "range": ["#0072BD", "#D95319", "#EDB120", "#7E2F8E"]}}, "strokeDash": {"field": "s", "type": "nominal", "legend": null, "scale": {"domain": ["Ayc085", "Ay085ref", "Ayc06", "Ay06ref"], "range": [[1, 0], [1, 0], [4, 2, 1, 2], [1, 0]]}}}},
   {"transform": [{"filter": {"not": {"field": "s", "equal": "Ayc06"}}}], "mark": {"type": "point", "filled": false, "size": 42}, "encoding": {"color": {"field": "s", "type": "nominal", "legend": null, "scale": {"domain": ["Ayc085", "Ay085ref", "Ayc06", "Ay06ref"], "range": ["#0072BD", "#D95319", "#EDB120", "#7E2F8E"]}}, "shape": {"field": "s", "type": "nominal", "legend": null, "scale": {"domain": ["Ayc085", "Ay085ref", "Ayc06", "Ay06ref"], "range": ["circle", "M-1,0H1M0,-1V1", "circle", "M-0.6,-0.6H0.6V0.6H-0.6Z"]}}}},
   {"mark": {"type": "point", "filled": false, "opacity": 0}, "encoding": {
     "color": {"field": "s", "type": "nominal", "legend": {"title": null, "legendX": 218, "legendY": 179}, "scale": {"domain": ["Ayc085", "Ay085ref", "Ayc06", "Ay06ref"], "range": ["#0072BD", "#D95319", "#EDB120", "#7E2F8E"]}},
     "shape": {"field": "s", "type": "nominal", "legend": {"title": null, "legendX": 218, "legendY": 179}, "scale": {"domain": ["Ayc085", "Ay085ref", "Ayc06", "Ay06ref"], "range": ["M-2.17,0H2.17M0.58,0A0.58,0.58,0,1,1,-0.58,0A0.58,0.58,0,1,1,0.58,0", "M-2.17,0H2.17M0,-0.6V0.6", "M-2.17,0H2.17", "M-2.17,0H2.17M-0.4,-0.4H0.4V0.4H-0.4Z"]}},
     "strokeDash": {"field": "s", "type": "nominal", "legend": {"title": null, "legendX": 218, "legendY": 179}, "scale": {"domain": ["Ayc085", "Ay085ref", "Ayc06", "Ay06ref"], "range": [[1, 0], [1, 0], [4, 2, 1, 2], [1, 0]]}}}}
  ],
  "resolve": {"scale": {"color": "independent", "shape": "independent", "strokeDash": "independent"}}
 }
], "spacing": 207, "bounds": "flush"},
{"hconcat": [
 {"width": 293, "height": 231, "title": {"text": ["e) Yaw rate on low adhesion road VS", "safety boundary"]}, "data": {"name": "e"},
  "encoding": {"x": {"field": "t", "type": "quantitative", "scale": {"domain": [0, 25], "nice": false, "zero": false}, "axis": {"title": "Time(s)", "values": [0, 5, 10, 15, 20, 25]}},
               "y": {"field": "v", "type": "quantitative", "scale": {"domain": [-0.02, 0.16], "nice": false, "zero": false}, "axis": {"title": "Yawrate(rad/s)", "values": [-0.02, 0, 0.02, 0.04, 0.06, 0.08, 0.1, 0.12, 0.14, 0.16]}}},
  "layer": [
   {"mark": {"type": "line"}, "encoding": {"color": {"field": "s", "type": "nominal", "legend": null, "scale": {"domain": ["Yawratec04", "Yawrate04ref", "Yawratec02", "Yawrate02ref"], "range": ["#0072BD", "#D95319", "#EDB120", "#7E2F8E"]}}}},
   {"mark": {"type": "point", "filled": false, "size": 48}, "encoding": {"color": {"field": "s", "type": "nominal", "legend": null, "scale": {"domain": ["Yawratec04", "Yawrate04ref", "Yawratec02", "Yawrate02ref"], "range": ["#0072BD", "#D95319", "#EDB120", "#7E2F8E"]}}, "shape": {"field": "s", "type": "nominal", "legend": null, "scale": {"domain": ["Yawratec04", "Yawrate04ref", "Yawratec02", "Yawrate02ref"], "range": ["diamond", "triangle-down", "M0,-1V1M-1,0H1M-0.7,-0.7L0.7,0.7M-0.7,0.7L0.7,-0.7", "triangle-left"]}}}},
   {"mark": {"type": "point", "filled": false, "opacity": 0}, "encoding": {
     "color": {"field": "s", "type": "nominal", "legend": {"title": null, "legendX": 212, "legendY": 130}, "scale": {"domain": ["Yawratec04", "Yawrate04ref", "Yawratec02", "Yawrate02ref"], "range": ["#0072BD", "#D95319", "#EDB120", "#7E2F8E"]}},
     "shape": {"field": "s", "type": "nominal", "legend": {"title": null, "legendX": 212, "legendY": 130}, "scale": {"domain": ["Yawratec04", "Yawrate04ref", "Yawratec02", "Yawrate02ref"], "range": ["M-2.17,0H2.17M0,-0.7L0.55,0L0,0.7L-0.55,0Z", "M-2.17,0H2.17M-0.6,-0.45H0.6L0,0.6Z", "M-2.17,0H2.17M0,-0.6V0.6M-0.45,-0.45L0.45,0.45M-0.45,0.45L0.45,-0.45", "M-2.17,0H2.17M-0.55,0L0.5,-0.6V0.6Z"]}}}}
  ],
  "resolve": {"scale": {"color": "independent", "shape": "independent"}}
 },
 {"width": 293, "height": 231, "title": {"text": ["f) Lateral acceleration on low", "adhesion road VS safety boundary"]}, "data": {"name": "f"},
  "encoding": {"x": {"field": "t", "type": "quantitative", "scale": {"domain": [0, 25], "nice": false, "zero": false}, "axis": {"title": "Time(s)", "values": [0, 5, 10, 15, 20, 25]}},
               "y": {"field": "v", "type": "quantitative", "scale": {"domain": [-0.5, 3.5], "nice": false, "zero": false}, "axis": {"title": "Ay(m/s²)", "values": [-0.5, 0, 0.5, 1, 1.5, 2, 2.5, 3, 3.5]}}},
  "layer": [
   {"mark": {"type": "line"}, "encoding": {"color": {"field": "s", "type": "nominal", "legend": null, "scale": {"domain": ["Ayc04", "Ay04ref", "Ayc02", "Ay02ref"], "range": ["#0072BD", "#D95319", "#EDB120", "#7E2F8E"]}}}},
   {"mark": {"type": "point", "filled": false, "size": 48}, "encoding": {"color": {"field": "s", "type": "nominal", "legend": null, "scale": {"domain": ["Ayc04", "Ay04ref", "Ayc02", "Ay02ref"], "range": ["#0072BD", "#D95319", "#EDB120", "#7E2F8E"]}}, "shape": {"field": "s", "type": "nominal", "legend": null, "scale": {"domain": ["Ayc04", "Ay04ref", "Ayc02", "Ay02ref"], "range": ["diamond", "triangle-down", "M0,-1V1M-1,0H1M-0.7,-0.7L0.7,0.7M-0.7,0.7L0.7,-0.7", "triangle-left"]}}}},
   {"mark": {"type": "point", "filled": false, "opacity": 0}, "encoding": {
     "color": {"field": "s", "type": "nominal", "legend": {"title": null, "legendX": 221, "legendY": 129}, "scale": {"domain": ["Ayc04", "Ay04ref", "Ayc02", "Ay02ref"], "range": ["#0072BD", "#D95319", "#EDB120", "#7E2F8E"]}},
     "shape": {"field": "s", "type": "nominal", "legend": {"title": null, "legendX": 221, "legendY": 129}, "scale": {"domain": ["Ayc04", "Ay04ref", "Ayc02", "Ay02ref"], "range": ["M-2.17,0H2.17M0,-0.7L0.55,0L0,0.7L-0.55,0Z", "M-2.17,0H2.17M-0.6,-0.45H0.6L0,0.6Z", "M-2.17,0H2.17M0,-0.6V0.6M-0.45,-0.45L0.45,0.45M-0.45,0.45L0.45,-0.45", "M-2.17,0H2.17M-0.55,0L0.5,-0.6V0.6Z"]}}}}
  ],
  "resolve": {"scale": {"color": "independent", "shape": "independent"}}
 }
], "spacing": 207, "bounds": "flush"},
{"hconcat": [
 {"width": 293, "height": 231, "title": {"text": ["g) Tire characteristics on high", "adhesion road(0.85)"]}, "data": {"name": "g"},
  "encoding": {"x": {"field": "slip", "type": "quantitative", "scale": {"domain": [-0.05, 0.01], "nice": false, "zero": false}, "axis": {"title": "slip(rad)", "values": [-0.05, -0.04, -0.03, -0.02, -0.01, 0, 0.01]}},
               "y": {"field": "fy", "type": "quantitative", "scale": {"domain": [-500, 3000], "nice": false, "zero": false}, "axis": {"title": "Fy(N)", "values": [-500, 0, 500, 1000, 1500, 2000, 2500, 3000]}}},
  "layer": [
   {"mark": {"type": "line"}, "encoding": {"order": {"field": "i", "type": "quantitative"}, "color": {"field": "s", "type": "nominal", "legend": null, "scale": {"domain": ["Tirefl", "Tirefr", "Tirerl", "Tirerr"], "range": ["#0072BD", "#D95319", "#EDB120", "#7E2F8E"]}}, "strokeDash": {"field": "s", "type": "nominal", "legend": null, "scale": {"domain": ["Tirefl", "Tirefr", "Tirerl", "Tirerr"], "range": [[1, 0], [4, 2, 1, 2], [1, 0], [1, 0]]}}}},
   {"transform": [{"filter": {"not": {"field": "s", "equal": "Tirefr"}}}], "mark": {"type": "point", "filled": false, "size": 48}, "encoding": {"color": {"field": "s", "type": "nominal", "legend": null, "scale": {"domain": ["Tirefl", "Tirefr", "Tirerl", "Tirerr"], "range": ["#0072BD", "#D95319", "#EDB120", "#7E2F8E"]}}, "shape": {"field": "s", "type": "nominal", "legend": null, "scale": {"domain": ["Tirefl", "Tirefr", "Tirerl", "Tirerr"], "range": ["circle", "circle", "diamond", "M0,-1V1M-1,0H1M-0.7,-0.7L0.7,0.7M-0.7,0.7L0.7,-0.7"]}}}},
   {"mark": {"type": "point", "filled": false, "opacity": 0}, "encoding": {
     "color": {"field": "s", "type": "nominal", "legend": {"title": null, "legendX": 239, "legendY": 6}, "scale": {"domain": ["Tirefl", "Tirefr", "Tirerl", "Tirerr"], "range": ["#0072BD", "#D95319", "#EDB120", "#7E2F8E"]}},
     "shape": {"field": "s", "type": "nominal", "legend": {"title": null, "legendX": 239, "legendY": 6}, "scale": {"domain": ["Tirefl", "Tirefr", "Tirerl", "Tirerr"], "range": ["M-2.17,0H2.17M0.58,0A0.58,0.58,0,1,1,-0.58,0A0.58,0.58,0,1,1,0.58,0", "M-2.17,0H2.17", "M-2.17,0H2.17M0,-0.7L0.55,0L0,0.7L-0.55,0Z", "M-2.17,0H2.17M0,-0.6V0.6M-0.45,-0.45L0.45,0.45M-0.45,0.45L0.45,-0.45"]}},
     "strokeDash": {"field": "s", "type": "nominal", "legend": {"title": null, "legendX": 239, "legendY": 6}, "scale": {"domain": ["Tirefl", "Tirefr", "Tirerl", "Tirerr"], "range": [[1, 0], [4, 2, 1, 2], [1, 0], [1, 0]]}}}}
  ],
  "resolve": {"scale": {"color": "independent", "shape": "independent", "strokeDash": "independent"}}
 },
 {"width": 293, "height": 231, "title": {"text": ["h) Tire characteristics on low", "adhesion road(0.2)"]}, "data": {"name": "h"},
  "encoding": {"x": {"field": "slip", "type": "quantitative", "scale": {"domain": [-0.06, 0.01], "nice": false, "zero": false}, "axis": {"title": "slip(rad)", "values": [-0.06, -0.05, -0.04, -0.03, -0.02, -0.01, 0, 0.01]}},
               "y": {"field": "fy", "type": "quantitative", "scale": {"domain": [-400, 1000], "nice": false, "zero": false}, "axis": {"title": "Fy(N)", "values": [-400, -200, 0, 200, 400, 600, 800, 1000]}}},
  "layer": [
   {"mark": {"type": "line"}, "encoding": {"order": {"field": "i", "type": "quantitative"}, "color": {"field": "s", "type": "nominal", "legend": null, "scale": {"domain": ["Tirefl", "Tirefr", "Tirerl", "Tirerr"], "range": ["#0072BD", "#D95319", "#EDB120", "#7E2F8E"]}}, "strokeDash": {"field": "s", "type": "nominal", "legend": null, "scale": {"domain": ["Tirefl", "Tirefr", "Tirerl", "Tirerr"], "range": [[1, 0], [4, 2, 1, 2], [1, 0], [1, 0]]}}}},
   {"transform": [{"filter": {"not": {"field": "s", "equal": "Tirefr"}}}], "mark": {"type": "point", "filled": false, "size": 48}, "encoding": {"color": {"field": "s", "type": "nominal", "legend": null, "scale": {"domain": ["Tirefl", "Tirefr", "Tirerl", "Tirerr"], "range": ["#0072BD", "#D95319", "#EDB120", "#7E2F8E"]}}, "shape": {"field": "s", "type": "nominal", "legend": null, "scale": {"domain": ["Tirefl", "Tirefr", "Tirerl", "Tirerr"], "range": ["circle", "circle", "diamond", "M0,-1V1M-1,0H1M-0.7,-0.7L0.7,0.7M-0.7,0.7L0.7,-0.7"]}}}},
   {"mark": {"type": "point", "filled": false, "opacity": 0}, "encoding": {
     "color": {"field": "s", "type": "nominal", "legend": {"title": null, "legendX": 91, "legendY": 179}, "scale": {"domain": ["Tirefl", "Tirefr", "Tirerl", "Tirerr"], "range": ["#0072BD", "#D95319", "#EDB120", "#7E2F8E"]}},
     "shape": {"field": "s", "type": "nominal", "legend": {"title": null, "legendX": 91, "legendY": 179}, "scale": {"domain": ["Tirefl", "Tirefr", "Tirerl", "Tirerr"], "range": ["M-2.17,0H2.17M0.58,0A0.58,0.58,0,1,1,-0.58,0A0.58,0.58,0,1,1,0.58,0", "M-2.17,0H2.17", "M-2.17,0H2.17M0,-0.7L0.55,0L0,0.7L-0.55,0Z", "M-2.17,0H2.17M0,-0.6V0.6M-0.45,-0.45L0.45,0.45M-0.45,0.45L0.45,-0.45"]}},
     "strokeDash": {"field": "s", "type": "nominal", "legend": {"title": null, "legendX": 91, "legendY": 179}, "scale": {"domain": ["Tirefl", "Tirefr", "Tirerl", "Tirerr"], "range": [[1, 0], [4, 2, 1, 2], [1, 0], [1, 0]]}}}}
  ],
  "resolve": {"scale": {"color": "independent", "shape": "independent", "strokeDash": "independent"}}
 }
], "spacing": 207, "bounds": "flush"}
]
}
